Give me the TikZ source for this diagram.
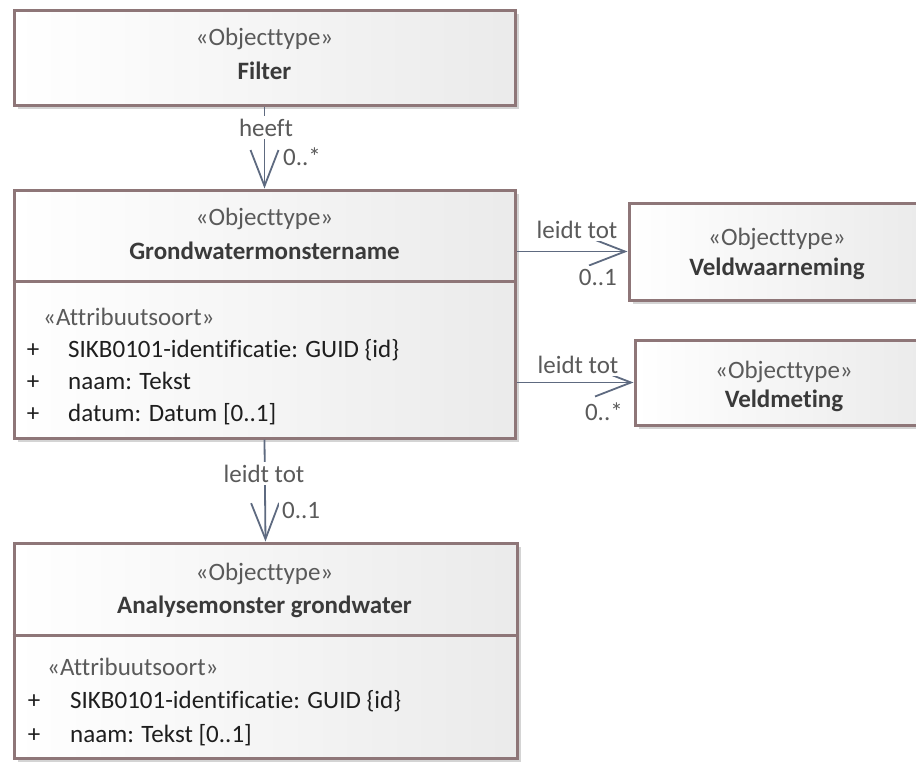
\documentclass[tikz,border=0pt]{standalone}
\usepackage{fontspec}
\setmainfont{Carlito}[Ligatures=NoCommon]
\usetikzlibrary{arrows.meta,shadows}

\definecolor{umlborder}{HTML}{8E7678}
\definecolor{umlline}{HTML}{5E6A80}
\definecolor{umlstereo}{HTML}{5A5A5A}
\definecolor{umlname}{HTML}{3A3A3A}
\definecolor{umltext}{HTML}{1E1E1E}

\newcommand\umlfont{\fontsize{25}{30}\selectfont}

\tikzset{
  classbox/.style={draw=umlborder, line width=3pt, left color=white, right color=black!8,
    drop shadow={shadow xshift=4pt, shadow yshift=-4pt, fill=black!17, opacity=1}},
  compline/.style={draw=umlborder, line width=3pt},
  stereo/.style={text=umlstereo, inner sep=0pt, anchor=base},
  clsname/.style={text=umlname, font=\umlfont\bfseries, inner sep=0pt, anchor=base},
  attr/.style={text=umltext, inner sep=0pt, anchor=base west},
  vis/.style={text=umltext, inner sep=0pt, anchor=base},
  assoc/.style={draw=umlline, line width=1.8pt, -{Straight Barb[length=36pt,width=28pt]}},
  rolelabel/.style={text=umlstereo, fill=white, inner sep=3pt},
}

\begin{document}
\begin{tikzpicture}[x=1pt,y=-1pt,font=\umlfont]
  \useasboundingbox (0,0) rectangle (916,761);

  % classes
  \node[classbox, minimum width=501, minimum height=95] (filter) at (264.5,57.5) {};
  \node[classbox, minimum width=501, minimum height=248] (grond) at (264.5,314) {};
  \node[classbox, minimum width=503, minimum height=215] (analyse) at (265.5,650.5) {};
  \node[classbox, minimum width=296, minimum height=97] (veldw) at (777,251.5) {};
  \node[classbox, minimum width=290, minimum height=85] (veldm) at (780,382.5) {};

  % compartments
  \draw[compline] (grond.west |- 0,281) -- (grond.east |- 0,281);
  \draw[compline] (analyse.west |- 0,635) -- (analyse.east |- 0,635);

  % headers
  \node[stereo] (filterst) at (264.5,45) {«Objecttype»};
  \node[clsname] (filternm) at (264.5,79) {Filter};
  \node[stereo] (grondst) at (264.5,225) {«Objecttype»};
  \node[clsname] (grondnm) at (264.5,259) {Grondwatermonstername};
  \node[stereo] (analysest) at (264.5,580) {«Objecttype»};
  \node[clsname] (analysenm) at (264.5,613) {Analysemonster grondwater};
  \node[stereo] (veldwst) at (777,245) {«Objecttype»};
  \node[clsname] (veldwnm) at (777,275) {Veldwaarneming};
  \node[stereo] (veldmst) at (784,378) {«Objecttype»};
  \node[clsname] (veldmnm) at (784,407) {Veldmeting};

  % attributes
  \node[stereo, anchor=base west] (grondattr) at (43,325) {«Attribuutsoort»};
  \node[vis] (grondv1) at (33,357) {+};
  \node[attr] (gronda1) at (68,357) {SIKB0101-identificatie: GUID \{id\}};
  \node[vis] (grondv2) at (33,389) {+};
  \node[attr] (gronda2) at (68,389) {naam: Tekst};
  \node[vis] (grondv3) at (33,421) {+};
  \node[attr] (gronda3) at (68,421) {datum: Datum [0..1]};

  \node[stereo, anchor=base west] (analyseattr) at (47,675) {«Attribuutsoort»};
  \node[vis] (analysev1) at (34,708) {+};
  \node[attr] (analysea1) at (70,708) {SIKB0101-identificatie: GUID \{id\}};
  \node[vis] (analysev2) at (34,742) {+};
  \node[attr] (analysea2) at (70,742) {naam: Tekst [0..1]};

  % associations
  \draw[assoc] (filter.south) -- (grond.north);
  \draw[assoc] (grond.east |- veldw.west) -- (veldw.west);
  \draw[assoc] (grond.east |- veldm.west) -- (veldm.west);
  \draw[assoc] (grond.south) -- (analyse.north);

  \node[rolelabel, anchor=base] (heeftlbl) at (266,136) {heeft};
  \node[rolelabel, anchor=base west] (heeftmul) at (280,165) {0..*};
  \node[rolelabel, anchor=base] (veldwlbl) at (577,238) {leidt tot};
  \node[rolelabel, anchor=base east] (veldwmul) at (620,285) {0..1};
  \node[rolelabel, anchor=base] (veldmlbl) at (578,373) {leidt tot};
  \node[rolelabel, anchor=base east] (veldmmul) at (626,420) {0..*};
  \node[rolelabel, anchor=base] (analyselbl) at (264,482) {leidt tot};
  \node[rolelabel, anchor=base west] (analysemul) at (279,518) {0..1};
\end{tikzpicture}
\end{document}
